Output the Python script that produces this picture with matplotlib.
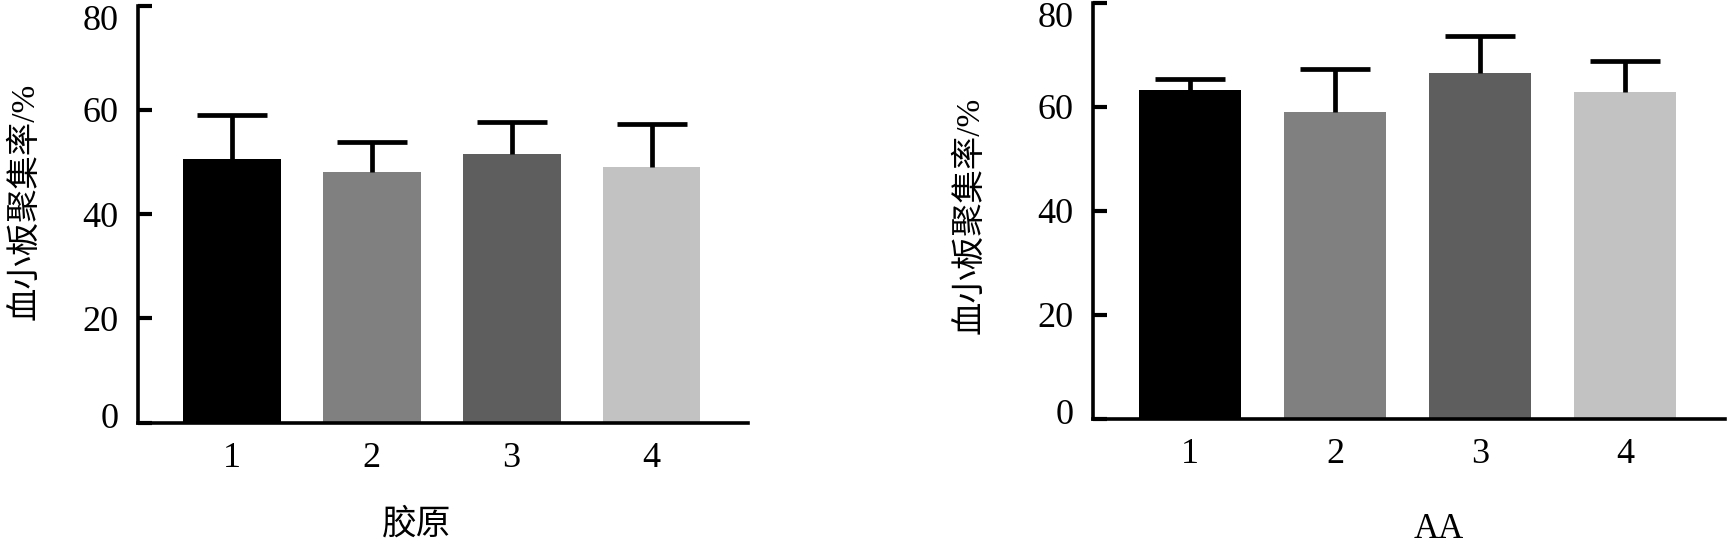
import matplotlib
matplotlib.use("Agg")
import matplotlib.pyplot as plt
from matplotlib.transforms import ScaledTranslation

groups = ["1", "2", "3", "4"]
collagen_mean = [50.5, 48.0, 51.6, 49.1]
collagen_upper = [59.0, 53.9, 57.6, 57.3]
aa_mean = [63.3, 59.1, 66.6, 62.8]
aa_upper = [65.3, 67.3, 73.7, 68.9]
bar_colors = ["#000000", "#808080", "#5e5e5e", "#c2c2c2"]
yticks = [0, 20, 40, 60, 80]
ylabel = "血小板聚集率/%"
xlabels = ["胶原", "AA"]

serif = ["Liberation Serif", "Noto Sans CJK SC"]

fig = plt.figure(figsize=(17.3, 5.5), dpi=100)
axes = [fig.add_axes([0.0798, 0.2316, 0.3526, 0.7584]),
        fig.add_axes([0.6318, 0.2382, 0.3653, 0.7564])]

datasets = [(collagen_mean, collagen_upper), (aa_mean, aa_upper)]
label_pos = [((0.456, -0.205), (-0.16, 0.53)), ((0.547, -0.225), (-0.17, 0.49))]

for ax, (means, upper), xl, (xlp, ylp) in zip(axes, datasets, xlabels, label_pos):
    x = list(range(1, len(groups) + 1))
    err = [u - m for u, m in zip(upper, means)]
    ax.bar(x, means, width=0.70, color=bar_colors, edgecolor="none", zorder=2)
    cont = ax.errorbar(x, means, yerr=[[0] * len(err), err], fmt="none", ecolor="black",
                       elinewidth=3.4, capsize=25, capthick=3.4, zorder=3)
    caplines = cont.lines[1]
    if len(caplines) > 1:
        caplines[0].set_visible(False)
    ax.set_xlim(0.33, 4.69)
    ax.set_ylim(0, 80)
    ax.set_yticks(yticks)
    ax.set_yticklabels([str(t) for t in yticks], family=serif, fontsize=26)
    ax.set_xticks(x)
    ax.set_xticklabels(groups, family=serif, fontsize=26)
    ax.tick_params(axis="y", direction="in", length=10, width=3, pad=14, color="black")
    ax.tick_params(axis="x", length=0, pad=14)
    for s in ["top", "right"]:
        ax.spines[s].set_visible(False)
    for s in ["left", "bottom"]:
        ax.spines[s].set_linewidth(2.6)
        ax.spines[s].set_color("black")
    ax.set_xlabel(xl, family=serif, fontsize=25)
    ax.xaxis.set_label_coords(*xlp)
    ax.set_ylabel(ylabel, family=serif, fontsize=24)
    ax.yaxis.set_label_coords(*ylp)
    ylabs = ax.get_yticklabels()
    ylabs[-1].set_transform(ylabs[-1].get_transform() + ScaledTranslation(0, -12 / 100, fig.dpi_scale_trans))
    ylabs[0].set_transform(ylabs[0].get_transform() + ScaledTranslation(0, 7 / 100, fig.dpi_scale_trans))

fig.savefig("out.png", dpi=100, facecolor="white")
